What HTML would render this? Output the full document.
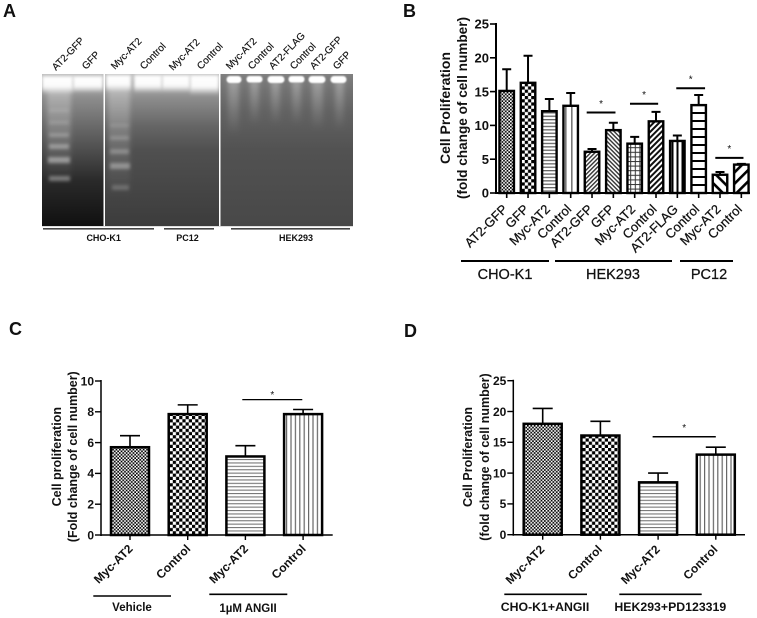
<!DOCTYPE html>
<html>
<head>
<meta charset="utf-8">
<style>
html,body{margin:0;padding:0;background:#fff;width:757px;height:618px;overflow:hidden}
svg{display:block}
text{font-family:"Liberation Sans",sans-serif;fill:#111}
</style>
</head>
<body>
<svg id="fig" width="757" height="618" viewBox="0 0 757 618" xmlns="http://www.w3.org/2000/svg" style="filter:blur(.35px)">
<defs>
  <pattern id="p-fine" width="3.4" height="3.4" patternUnits="userSpaceOnUse"><rect width="3.4" height="3.4" fill="#fff"/><rect width="1.7" height="1.7" fill="#000"/><rect x="1.7" y="1.7" width="1.7" height="1.7" fill="#000"/></pattern>
  <pattern id="p-check" width="6.4" height="6.4" patternUnits="userSpaceOnUse"><rect width="6.4" height="6.4" fill="#fff"/><rect width="3.2" height="3.2" fill="#000"/><rect x="3.2" y="3.2" width="3.2" height="3.2" fill="#000"/></pattern>
  <pattern id="p-h" width="4" height="3.4" patternUnits="userSpaceOnUse"><rect width="4" height="3.4" fill="#fff"/><rect width="4" height="1.3" fill="#666"/></pattern>
  <pattern id="p-h2" width="4" height="3.4" patternUnits="userSpaceOnUse"><rect width="4" height="3.4" fill="#fff"/><rect width="4" height="1.1" fill="#777"/></pattern>
  <pattern id="p-v" width="4.4" height="4" patternUnits="userSpaceOnUse"><rect width="4.4" height="4" fill="#fff"/><rect width="1.2" height="4" fill="#666"/></pattern>
  <pattern id="p-v-b" width="6" height="4" patternUnits="userSpaceOnUse"><rect width="6" height="4" fill="#fff"/><rect x="1" width="1.6" height="4" fill="#777"/></pattern>
  <pattern id="p-d1" width="3" height="3" patternUnits="userSpaceOnUse" patternTransform="rotate(-45)"><rect width="3" height="3" fill="#fff"/><rect width="3" height="1.4" fill="#333"/></pattern>
  <pattern id="p-d2" width="3" height="3" patternUnits="userSpaceOnUse" patternTransform="rotate(45)"><rect width="3" height="3" fill="#fff"/><rect width="3" height="1.4" fill="#333"/></pattern>
  <pattern id="p-grid" width="4.6" height="4.6" patternUnits="userSpaceOnUse"><rect width="4.6" height="4.6" fill="#fff"/><rect width="1" height="4.6" fill="#333"/><rect width="4.6" height="1" fill="#333"/></pattern>
  <pattern id="p-d3" width="4" height="4" patternUnits="userSpaceOnUse" patternTransform="rotate(-45)"><rect width="4" height="4" fill="#fff"/><rect width="4" height="2" fill="#111"/></pattern>
  <pattern id="p-vb" width="5" height="4" patternUnits="userSpaceOnUse"><rect width="5" height="4" fill="#fff"/><rect x="1.5" width="2" height="4" fill="#000"/></pattern>
  <pattern id="p-hb" width="4" height="8" patternUnits="userSpaceOnUse"><rect width="4" height="8" fill="#fff"/><rect width="4" height="2" fill="#000"/></pattern>
  <pattern id="p-wd1" width="8" height="8" patternUnits="userSpaceOnUse" patternTransform="rotate(45)"><rect width="8" height="8" fill="#fff"/><rect width="8" height="2.6" fill="#000"/></pattern>
  <pattern id="p-wd2" width="8" height="8" patternUnits="userSpaceOnUse" patternTransform="rotate(-45)"><rect width="8" height="8" fill="#fff"/><rect width="8" height="2.6" fill="#000"/></pattern>

  <linearGradient id="g1" x1="0" y1="0" x2="0" y2="1"><stop offset="0" stop-color="#bbb"/><stop offset=".17" stop-color="#8a8a8a"/><stop offset=".34" stop-color="#6a6a6a"/><stop offset=".5" stop-color="#4e4e4e"/><stop offset=".7" stop-color="#2a2a2a"/><stop offset="1" stop-color="#101010"/></linearGradient>
  <linearGradient id="g2" x1="0" y1="0" x2="0" y2="1"><stop offset="0" stop-color="#bbb"/><stop offset=".17" stop-color="#8a8a8a"/><stop offset=".34" stop-color="#666"/><stop offset=".5" stop-color="#505050"/><stop offset="1" stop-color="#3c3c3c"/></linearGradient>
  <linearGradient id="g3" x1="0" y1="0" x2="0" y2="1"><stop offset="0" stop-color="#808080"/><stop offset=".1" stop-color="#727272"/><stop offset=".25" stop-color="#626262"/><stop offset=".5" stop-color="#525252"/><stop offset="1" stop-color="#484848"/></linearGradient>
  <linearGradient id="streak" x1="0" y1="0" x2="0" y2="1"><stop offset="0" stop-color="#fff" stop-opacity=".3"/><stop offset="1" stop-color="#fff" stop-opacity="0"/></linearGradient>
  <linearGradient id="glow" x1="0" y1="0" x2="0" y2="1"><stop offset="0" stop-color="#fff" stop-opacity="1"/><stop offset=".6" stop-color="#fff" stop-opacity=".95"/><stop offset="1" stop-color="#fff" stop-opacity="0"/></linearGradient>
  <filter id="b05" x="-30%" y="-50%" width="160%" height="200%"><feGaussianBlur stdDeviation=".8"/></filter>
  <filter id="b1" x="-30%" y="-80%" width="160%" height="260%"><feGaussianBlur stdDeviation="1.5"/></filter>
  <filter id="b2" x="-40%" y="-40%" width="180%" height="180%"><feGaussianBlur stdDeviation="2.4"/></filter>
  <clipPath id="gel-clip-1"><rect x="42" y="74" width="61.5" height="152"/></clipPath>
  <clipPath id="gel-clip-2"><rect x="105" y="74" width="114" height="152"/></clipPath>
  <clipPath id="gel-clip-3"><rect x="220.5" y="74" width="132.5" height="152"/></clipPath>
</defs>

<rect width="757" height="618" fill="#fff"/>

<g font-weight="bold" font-size="18">
  <text x="3" y="17">A</text>
  <text x="403" y="17">B</text>
  <text x="9" y="335">C</text>
  <text x="404" y="337">D</text>
</g>

<g>
  <g clip-path="url(#gel-clip-1)">
    <rect x="42" y="74" width="61.5" height="152" fill="url(#g1)"/>
    <rect x="47" y="88" width="24" height="95" fill="url(#streak)" filter="url(#b2)"/>
    <g fill="#fff" filter="url(#b1)">
      <rect x="49" y="109" width="20" height="3" opacity=".12"/>
      <rect x="49" y="121" width="20" height="3" opacity=".16"/>
      <rect x="49" y="133" width="20" height="4" opacity=".24"/>
      <rect x="49" y="144" width="20" height="5" opacity=".34"/>
      <rect x="48" y="157" width="22" height="6" opacity=".42"/>
      <rect x="49" y="176" width="21" height="5" opacity=".36"/>
    </g>
    <rect x="42" y="76" width="31" height="18" fill="url(#glow)" filter="url(#b1)"/>
    <rect x="73" y="76" width="30" height="17" fill="url(#glow)" filter="url(#b1)"/>
  </g>
  <g clip-path="url(#gel-clip-2)">
    <rect x="105" y="74" width="114" height="152" fill="url(#g2)"/>
    <rect x="108" y="86" width="22" height="110" fill="url(#streak)" filter="url(#b2)"/>
    <g fill="#fff" filter="url(#b1)">
      <rect x="110" y="124" width="19" height="3" opacity=".14"/>
      <rect x="110" y="136" width="19" height="4" opacity=".2"/>
      <rect x="110" y="149" width="19" height="5" opacity=".26"/>
      <rect x="110" y="163" width="20" height="6" opacity=".34"/>
      <rect x="112" y="185" width="17" height="5" opacity=".2"/>
    </g>
    <rect x="106" y="75" width="25" height="17" fill="url(#glow)" filter="url(#b1)"/>
    <rect x="134" y="75" width="28" height="18" fill="url(#glow)" filter="url(#b1)"/>
    <rect x="162" y="75" width="28" height="18" fill="url(#glow)" filter="url(#b1)"/>
    <rect x="190" y="75" width="29" height="20" fill="url(#glow)" filter="url(#b1)"/>
  </g>
  <g clip-path="url(#gel-clip-3)">
    <rect x="220.5" y="74" width="132.5" height="152" fill="url(#g3)"/>
    <g fill="url(#streak)" filter="url(#b2)">
      <rect x="228" y="80" width="11" height="55"/><rect x="250" y="80" width="9" height="45"/>
      <rect x="271" y="80" width="9" height="45"/><rect x="292" y="80" width="9" height="45"/>
      <rect x="312" y="80" width="11" height="50"/><rect x="335" y="80" width="9" height="50"/>
    </g>
    <g fill="#fff" filter="url(#b05)">
      <rect x="226.5" y="76" width="15" height="7" rx="3.5"/><rect x="246.5" y="76" width="16" height="6.5" rx="3"/>
      <rect x="267.5" y="76" width="17" height="7" rx="3.5"/><rect x="288.5" y="76" width="16" height="6.5" rx="3"/>
      <rect x="308.5" y="76" width="17" height="7" rx="3.5"/><rect x="330.5" y="76" width="16" height="7" rx="3.5"/>
    </g>
  </g>
  <rect x="42" y="226" width="311" height="1" fill="#ddd"/>
  <g font-size="10" id="gel-labels" stroke="#111" stroke-width=".15"></g>
  <g fill="#444">
    <rect x="43" y="228" width="111" height="1.6"/>
    <rect x="164" y="228" width="50" height="1.6"/>
    <rect x="231" y="228" width="119" height="1.6"/>
  </g>
  <g font-size="9" font-weight="bold" text-anchor="middle">
    <text x="103.7" y="241">CHO-K1</text>
    <text x="187.5" y="241">PC12</text>
    <text x="296" y="241">HEK293</text>
  </g>
</g>

<g id="chart-b"></g>
<g id="chart-c"></g>
<g id="chart-d"></g>
</svg>

<script>
// Gel lane labels
const gelLaneNames = ["AT2-GFP","GFP","Myc-AT2","Control","Myc-AT2","Control","Myc-AT2","Control","AT2-FLAG","Control","AT2-GFP","GFP"];

// Panel B
const bCategories = ["AT2-GFP","GFP","Myc-AT2","Control","AT2-GFP","GFP","Myc-AT2","Control","AT2-FLAG","Control","Myc-AT2","Control"];
const bValues = [15.1,16.3,12.1,12.9,6.1,9.3,7.3,10.6,7.7,13.0,2.7,4.2];
const bErrorTops = [18.3,20.3,13.9,14.8,6.5,10.4,8.3,12.0,8.5,14.5,3.1,4.3];
const bTicks = [0,5,10,15,20,25];

// Panel C
const cCategories = ["Myc-AT2","Control","Myc-AT2","Control"];
const cValues = [5.7,7.85,5.1,7.85];
const cErrorTops = [6.45,8.45,5.8,8.15];
const cTicks = [0,2,4,6,8,10];

// Panel D
const dCategories = ["Myc-AT2","Control","Myc-AT2","Control"];
const dValues = [18.0,16.1,8.5,13.0];
const dErrorTops = [20.5,18.4,10.0,14.2];
const dTicks = [0,5,10,15,20,25];

const NS = "http://www.w3.org/2000/svg";
function mk(parent, tag, attrs, txt){
  const e = document.createElementNS(NS, tag);
  for (const k in attrs) e.setAttribute(k, attrs[k]);
  if (txt !== undefined) e.textContent = txt;
  parent.appendChild(e);
  return e;
}

function drawChart(root, cfg){
  const y = v => cfg.y0 - (v - cfg.min) / (cfg.max - cfg.min) * (cfg.y0 - cfg.yTop);
  const x = i => cfg.x0 + cfg.step * i;

  cfg.values.forEach((v, i) => {
    const bar = mk(root, "rect", {x: x(i) - cfg.barW / 2, y: y(v), width: cfg.barW, height: y(0) - y(v), fill: "url(#" + cfg.fills[i] + ")", stroke: "#000", "stroke-width": cfg.barStroke});
    
    
    const err = mk(root, "path", {d: "M" + x(i) + " " + y(v) + "V" + y(cfg.errs[i]) + "M" + (x(i) - cfg.cap) + " " + y(cfg.errs[i]) + "H" + (x(i) + cfg.cap), stroke: "#000", "stroke-width": cfg.errStroke, fill: "none"});
    
    
    const tick = mk(root, "line", {x1: x(i), x2: x(i), y1: y(0), y2: y(0) + 5, stroke: "#000", "stroke-width": cfg.tickStroke});
    
    
    const lbl = mk(root, "text", {transform: "translate(" + (x(i) + cfg.lblDx) + " " + (y(0) + cfg.lblDy) + ") rotate(-45)", "text-anchor": "end", "font-size": cfg.xFont, "font-weight": cfg.xWeight, stroke: "#111", "stroke-width": cfg.xStroke}, cfg.cats[i]);
    
    
  });

  const yAxis = mk(root, "line", {x1: cfg.axisX, x2: cfg.axisX, y1: y(cfg.max) - 1, y2: y(0) + 1, stroke: "#000", "stroke-width": cfg.axisStroke});
  
  
  const xAxis = mk(root, "line", {x1: cfg.axisX, x2: cfg.axisEnd, y1: y(0), y2: y(0), stroke: "#000", "stroke-width": cfg.axisStroke});
  
  

  cfg.ticks.forEach(t => {
    const tk = mk(root, "line", {x1: cfg.axisX - 6, x2: cfg.axisX, y1: y(t), y2: y(t), stroke: "#000", "stroke-width": cfg.tickStroke});
    
    
    const tl = mk(root, "text", {x: cfg.axisX - 7, y: y(t) + cfg.yFont * .36, "text-anchor": "end", "font-size": cfg.yFont, "font-weight": "bold"}, t);
    
    
  });

  cfg.titles.forEach(tt => {
    const t = mk(root, "text", {transform: "translate(" + tt[1] + " " + cfg.titleY + ") rotate(-90)", "text-anchor": "middle", "font-size": tt[2], "font-weight": "bold"}, tt[0]);
    
    
  });

  cfg.sigs.forEach(s => {
    const ln = mk(root, "line", {x1: x(s[0]), x2: x(s[1]), y1: y(s[2]), y2: y(s[2]), stroke: "#000", "stroke-width": cfg.sigStroke});
    
    
    const st = mk(root, "text", {x: (x(s[0]) + x(s[1])) / 2, y: y(s[2]) - cfg.starDy, "text-anchor": "middle", "font-size": 10, fill: "#333"}, "*");
    
    
  });

  cfg.groups.forEach(g => {
    const ln = mk(root, "line", {x1: g[1], x2: g[2], y1: g[3], y2: g[3], stroke: "#000", "stroke-width": cfg.groupStroke});
    
    
    const t = mk(root, "text", {x: g[4], y: g[5], "text-anchor": "middle", "font-size": cfg.groupFont, "font-weight": cfg.groupWeight, stroke: "#111", "stroke-width": cfg.xStroke}, g[0]);
    
    
  });
}

drawChart(document.getElementById("chart-b"), {
  cats: bCategories, values: bValues, errs: bErrorTops, ticks: bTicks,
  min: 0, max: 25, y0: 193, yTop: 24, x0: 506.7, step: 21.33, barW: 14.5,
  axisX: 496, axisEnd: 750, axisStroke: 2, tickStroke: 1.6, barStroke: 2.4, errStroke: 2, cap: 4.5,
  fills: ["p-fine","p-check","p-h","p-v-b","p-d1","p-d2","p-grid","p-d3","p-vb","p-hb","p-wd1","p-wd2"],
  xFont: 13, xWeight: "normal", xStroke: .25, yFont: 13, lblDx: 1.5, lblDy: 17,
  titles: [["Cell Proliferation", 450, 14], ["(fold change of cell number)", 467, 13.6]], titleY: 108,
  sigs: [[3.75,5.1,11.9],[5.78,7.1,13.2],[7.95,9.3,15.5],[9.78,11.1,5.2]], sigStroke: 2, starDy: 5.7,
  groups: [["CHO-K1",461,549,261,505,279],["HEK293",555,672,261,613,279],["PC12",680,733,261,709,279]],
  groupStroke: 2, groupFont: 14.5, groupWeight: "normal"
});

drawChart(document.getElementById("chart-c"), {
  cats: cCategories, values: cValues, errs: cErrorTops, ticks: cTicks,
  min: 0, max: 10, y0: 535, yTop: 381, x0: 130, step: 57.7, barW: 38,
  axisX: 101, axisEnd: 332.7, axisStroke: 1.5, tickStroke: 1.4, barStroke: 2.5, errStroke: 1.6, cap: 10,
  fills: ["p-fine","p-check","p-h2","p-v"],
  xFont: 12, xWeight: "bold", xStroke: 0, yFont: 12, lblDx: 3.5, lblDy: 14.5,
  titles: [["Cell proliferation", 61, 12.5], ["(Fold change of cell number)", 77, 12.5]], titleY: 456.7,
  sigs: [[1.946,2.986,8.79]], sigStroke: 1.2, starDy: 1.7,
  groups: [["Vehicle",93.3,171,596,132,611],["1\u00B5M ANGII",209.3,287.3,594.3,248,612]],
  groupStroke: 1.6, groupFont: 11.5, groupWeight: "bold"
});

drawChart(document.getElementById("chart-d"), {
  cats: dCategories, values: dValues, errs: dErrorTops, ticks: dTicks,
  min: 0, max: 25, y0: 534.7, yTop: 380.7, x0: 542.7, step: 57.7, barW: 38,
  axisX: 513.3, axisEnd: 745, axisStroke: 1.5, tickStroke: 1.4, barStroke: 2.5, errStroke: 1.6, cap: 10,
  fills: ["p-fine","p-check","p-h2","p-v"],
  xFont: 12, xWeight: "bold", xStroke: 0, yFont: 12, lblDx: 2.5, lblDy: 15.5,
  titles: [["Cell Proliferation", 472, 12.5], ["(fold change of cell number)", 489, 12.5]], titleY: 457,
  sigs: [[1.905,3,15.9]], sigStroke: 1.6, starDy: 6,
  groups: [["CHO-K1+ANGII",504.3,587,594.3,545,611],["HEK293+PD123319",619.3,701.7,594.3,670.3,611]],
  groupStroke: 1.6, groupFont: 12.3, groupWeight: "bold"
});

// Gel lane labels
const gelGroup = document.getElementById("gel-labels");
const gelStartXY = [[56,71],[86,70],[115,70],[144,70],[173,71],[201,70],[230,70],[252,70],[273,70],[294,70],[314,70],[337,70]];
gelLaneNames.forEach((n, i) => {
  const t = mk(gelGroup, "text", {transform: "translate(" + gelStartXY[i][0] + " " + gelStartXY[i][1] + ") rotate(-46)"}, n);
  
  
});
</script>
</body>
</html>
